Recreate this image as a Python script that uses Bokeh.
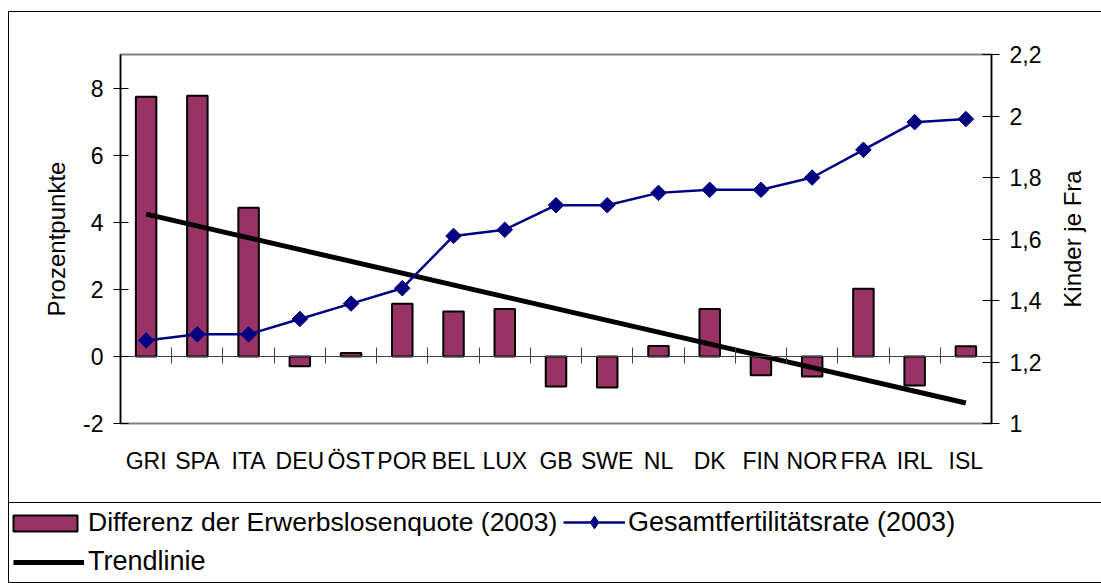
import numpy as np
from bokeh.plotting import figure
from bokeh.layouts import column, row
from bokeh.models import (Range1d, LinearAxis, FixedTicker, Legend, LegendItem, Label)
from bokeh.embed import file_html
from bokeh.resources import INLINE

# ---------------- data ----------------
countries = ["GRI", "SPA", "ITA", "DEU", "ÖST", "POR", "BEL", "LUX", "GB", "SWE",
             "NL", "DK", "FIN", "NOR", "FRA", "IRL", "ISL"]
diff_unemployment_2003 = [7.74, 7.77, 4.43, -0.29, 0.10, 1.57, 1.34, 1.41, -0.90, -0.93,
                          0.31, 1.41, -0.56, -0.60, 2.02, -0.87, 0.30]
fertility_2003 = [1.27, 1.29, 1.29, 1.34, 1.39, 1.44, 1.61, 1.63, 1.71, 1.71,
                  1.75, 1.76, 1.76, 1.80, 1.89, 1.98, 1.99]
left_ticks = [-2, 0, 2, 4, 6, 8]
left_tick_labels = ["-2", "0", "2", "4", "6", "8"]
right_ticks = [1.0, 1.2, 1.4, 1.6, 1.8, 2.0, 2.2]
right_tick_labels = ["1", "1,2", "1,4", "1,6", "1,8", "2", "2,2"]

FONT = "Liberation Sans"
BAR_FILL = "#993366"
NAVY = "#000080"

x = [i + 0.5 for i in range(len(countries))]
idx = np.arange(1, len(countries) + 1)
slope, intercept = np.polyfit(idx, diff_unemployment_2003, 1)
trend_x = [x[0], x[-1]]
trend_y = [intercept + slope * idx[0], intercept + slope * idx[-1]]

bar_style = dict(fill_color=BAR_FILL, line_color="black", line_width=2)
trend_style = dict(line_color="black", line_width=5)
fline_style = dict(line_color=NAVY, line_width=2.5)

# ---------------- main chart ----------------
p = figure(width=1040, height=490, x_range=Range1d(0, len(countries)),
           y_range=Range1d(-2, 9), output_backend="svg", toolbar_location=None,
           min_border_left=111, min_border_right=58, min_border_top=42,
           min_border_bottom=79)
p.background_fill_color = "white"
p.border_fill_color = "white"
p.outline_line_color = "#808080"
p.outline_line_width = 2
p.xgrid.visible = False
p.ygrid.visible = False

xa = p.xaxis[0]
xa.ticker = FixedTicker(ticks=x)
xa.major_label_overrides = {xv: c for xv, c in zip(x, countries)}
xa.axis_line_color = None
xa.major_tick_in = 0
xa.major_tick_out = 0
xa.minor_tick_line_color = None
xa.major_label_standoff = 24
xa.major_label_text_font = FONT
xa.major_label_text_font_size = "23px"
xa.major_label_text_color = "black"

bounds = list(range(1, len(countries)))
zero_axis = LinearAxis(fixed_location=0, ticker=FixedTicker(ticks=bounds),
                       major_label_overrides={b: "" for b in bounds},
                       major_label_standoff=0,
                       axis_line_color="#404040", axis_line_width=1,
                       major_tick_in=9, major_tick_out=7,
                       major_tick_line_color="#404040",
                       minor_tick_line_color=None)
p.add_layout(zero_axis, "below")

ya = p.yaxis[0]
ya.ticker = FixedTicker(ticks=left_ticks)
ya.major_label_overrides = dict(zip(left_ticks, left_tick_labels))
ya.axis_line_color = "black"
ya.axis_line_width = 1.5
ya.major_tick_in = 8
ya.major_tick_out = 7
ya.minor_tick_line_color = None
ya.major_label_standoff = 10
ya.major_label_text_font = FONT
ya.major_label_text_font_size = "23px"
ya.major_label_text_color = "black"
ya.axis_label = "Prozentpunkte"
ya.axis_label_text_font = FONT
ya.axis_label_text_font_size = "24px"
ya.axis_label_text_font_style = "normal"
ya.axis_label_text_color = "black"
ya.axis_label_standoff = 10

p.extra_y_ranges = {"fert": Range1d(1.0, 2.2)}
ra = LinearAxis(y_range_name="fert", ticker=FixedTicker(ticks=right_ticks),
                major_label_overrides=dict(zip(right_ticks, right_tick_labels)),
                axis_line_color="black", axis_line_width=1.5,
                major_tick_in=9, major_tick_out=8, minor_tick_line_color=None,
                major_label_standoff=10, major_label_text_font=FONT,
                major_label_text_font_size="23px", major_label_text_color="black")
p.add_layout(ra, "right")

p.vbar(x=x, top=diff_unemployment_2003, bottom=0, width=0.4, **bar_style)
p.line(trend_x, trend_y, **trend_style)
p.line(x, fertility_2003, y_range_name="fert", **fline_style)
p.scatter(x, fertility_2003, y_range_name="fert", marker="square",
          angle=np.pi / 4, size=11, fill_color=NAVY, line_color=NAVY)

# ---------------- right axis title panel ----------------
tf = figure(width=52, height=490, x_range=Range1d(0, 1), y_range=Range1d(0, 1),
            output_backend="svg", toolbar_location=None,
            x_axis_location=None, y_axis_location=None,
            min_border_left=0, min_border_right=0, min_border_top=42,
            min_border_bottom=79)
tf.outline_line_color = None
tf.xgrid.visible = False
tf.ygrid.visible = False
tf.border_fill_color = "white"
tf.add_layout(Label(x=23, y=0.5, x_units="screen", y_units="data",
                    text="Kinder je Fra", angle=np.pi / 2,
                    text_align="center", text_baseline="middle",
                    text_font=FONT, text_font_size="24px", text_color="black"))

# ---------------- legend panel ----------------
lf = figure(width=1092, height=79, x_range=Range1d(0, len(countries)),
            y_range=Range1d(-2, 9), output_backend="svg", toolbar_location=None,
            x_axis_location=None, y_axis_location=None,
            min_border_left=0, min_border_right=0, min_border_top=0,
            min_border_bottom=0)
lf.outline_line_color = None
lf.xgrid.visible = False
lf.ygrid.visible = False
lf.border_fill_color = "white"
lf.background_fill_color = "white"
lf.extra_y_ranges = {"fert": Range1d(1.0, 2.2)}
l_bar = lf.vbar(x=x, top=diff_unemployment_2003, bottom=0, width=0.4,
                visible=False, **bar_style)
l_fl = lf.line(x, fertility_2003, y_range_name="fert", visible=False, **fline_style)
l_fm = lf.scatter(x, fertility_2003, y_range_name="fert", visible=False,
                  marker="diamond", size=14, fill_color=NAVY, line_color=NAVY)
l_tr = lf.line(trend_x, trend_y, visible=False, **trend_style)

leg_common = dict(orientation="horizontal", label_text_font=FONT,
                  label_text_color="black",
                  padding=0, margin=0, border_line_color=None,
                  background_fill_alpha=0, inactive_fill_alpha=0)
leg_a = Legend(items=[LegendItem(label="Differenz der Erwerbslosenquote (2003)",
                                 renderers=[l_bar])],
               location=(-4, 44), glyph_width=80, glyph_height=20,
               label_standoff=3, label_text_font_size="26.5px", **leg_common)
leg_b = Legend(items=[LegendItem(label="Gesamtfertilitätsrate (2003)",
                                 renderers=[l_fl, l_fm])],
               location=(554, 44), glyph_width=62, glyph_height=32,
               label_standoff=3, label_text_font_size="27px", **leg_common)
leg_c = Legend(items=[LegendItem(label="Trendlinie", renderers=[l_tr])],
               location=(4, 5), glyph_width=71, glyph_height=20,
               label_standoff=4, label_text_font_size="27px", **leg_common)
for lg in (leg_a, leg_b, leg_c):
    lf.add_layout(lg)

root1 = column(row(p, tf, spacing=0), spacing=0, margin=(11, 0, 0, 8),
               styles={"border-top": "1px solid black",
                       "border-left": "1px solid black"})
root2 = column(lf, spacing=0, margin=(0, 0, 0, 8),
               styles={"border-left": "1px solid black",
                       "border-top": "1px solid black",
                       "border-bottom": "1px solid black"})

open("out.html", "w").write(file_html([root1, root2], INLINE))
